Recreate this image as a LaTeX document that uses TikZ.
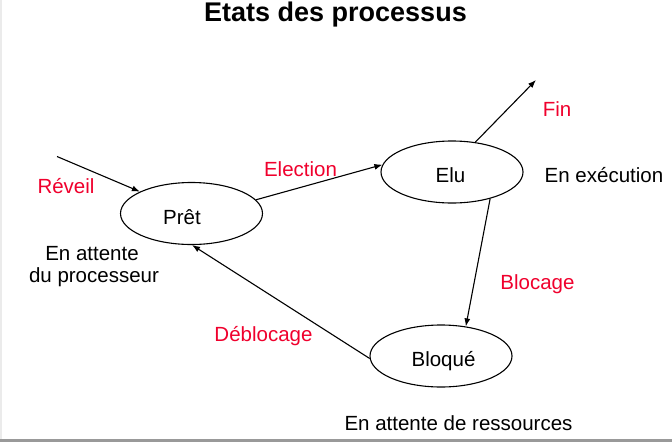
\documentclass[tikz,border=0pt]{standalone}
\usepackage{fontspec}
\setmainfont{Liberation Sans}
\usetikzlibrary{shapes.geometric,arrows.meta}
\definecolor{lblred}{RGB}{240,0,45}
\tikzset{
  state/.style={ellipse, draw, line width=1.1pt, minimum width=142pt, minimum height=62pt, inner sep=0pt},
  txt/.style={anchor=base, inner sep=0pt, font=\fontsize{20.5pt}{24pt}\selectfont},
  lbl/.style={txt, text=lblred},
  arr/.style={line width=1.1pt, -{Latex[length=8pt,width=6pt]}},
}
\begin{document}
\begin{tikzpicture}[x=1pt,y=-1pt]
\useasboundingbox (0,0) rectangle (672,442);
\fill[white] (0,0) rectangle (672,442);
\fill[black!40] (0,439) rectangle (672,442);
\fill[black!8] (0,0) rectangle (2,439);
% title
\node[anchor=base, inner sep=0pt, font=\fontsize{27pt}{32pt}\selectfont\bfseries] (title) at (335.5,21.7) {Etats des processus};
% states
\node[state] (pret) at (191.5,213.5) {};
\node[state] (elu) at (452,172) {};
\node[state] (bloque) at (441,356) {};
\node[txt] (tpret) at (182,224) {Prêt};
\node[txt] (telu) at (450.5,182.7) {Elu};
\node[txt] (tbloque) at (443.5,366) {Bloqué};
% free ends
\coordinate (rev) at (57,156.5);
\coordinate (fin) at (536,80);
% arrows
\draw[arr] (rev) -- (pret);
\draw[arr] (pret.12) -- (elu.174);
\draw[arr] (elu.52) -- (fin);
\draw[arr] (elu.-35) -- (bloque.50);
\draw[arr] (bloque.182) -- (pret.-89);
% red labels
\node[lbl] (lrev) at (66,193.3) {Réveil};
\node[lbl] (lel) at (300.5,176) {Election};
\node[lbl] (lfin) at (557,116) {Fin};
\node[lbl] (lblo) at (537.5,289) {Blocage};
\node[lbl] (ldeb) at (263.5,341.7) {Déblocage};
% black comments
\node[txt] (cexe) at (604,182.7) {En exécution};
\node[txt] (catt1) at (92,260) {En attente};
\node[txt] (catt2) at (94,282) {du processeur};
\node[txt] (cres) at (458.5,430) {En attente de ressources};
\end{tikzpicture}
\end{document}
